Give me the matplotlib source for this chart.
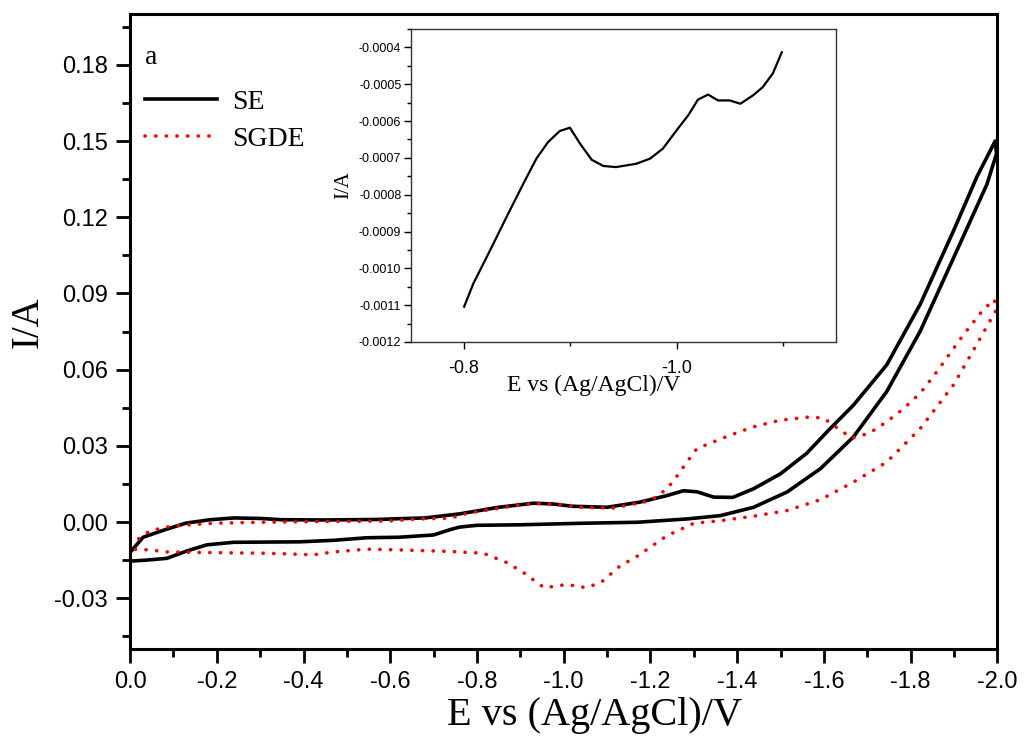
import matplotlib
matplotlib.use("Agg")
import matplotlib.pyplot as plt
from matplotlib.ticker import MultipleLocator, FormatStrFormatter

plt.rcParams['axes.unicode_minus'] = False
plt.rcParams['font.family'] = ['Liberation Sans', 'DejaVu Sans']

# SE 循环伏安曲线（正扫 + 回扫）
se_fwd_e = [0.0, -0.03, -0.085, -0.13, -0.185, -0.24, -0.30, -0.35, -0.45, -0.57, -0.62, -0.68,
            -0.76, -0.85, -0.93, -0.975, -1.02, -1.10, -1.175, -1.238, -1.276, -1.307, -1.346,
            -1.39, -1.438, -1.50, -1.56, -1.61, -1.668, -1.745, -1.822, -1.899, -1.953, -1.995]
se_fwd_i = [-0.012, -0.006, -0.0028, -0.0004, 0.0009, 0.0016, 0.0014, 0.0009, 0.0008, 0.0010, 0.0013, 0.0016,
            0.0032, 0.0058, 0.0074, 0.0071, 0.0062, 0.0058, 0.0078, 0.0104, 0.0123, 0.0119, 0.0098,
            0.0097, 0.0131, 0.019, 0.027, 0.036, 0.046, 0.0619, 0.0857, 0.1147, 0.136, 0.150]
se_rev_e = [-1.998, -1.976, -1.899, -1.822, -1.745, -1.668, -1.592, -1.515, -1.438, -1.361, -1.284,
            -1.17, -1.04, -0.90, -0.80, -0.76, -0.738, -0.70, -0.62, -0.546, -0.47, -0.392, -0.238,
            -0.177, -0.131, -0.085, -0.038, 0.0]
se_rev_i = [0.145, 0.133, 0.104, 0.0751, 0.0514, 0.0335, 0.021, 0.0118, 0.0058, 0.0025, 0.0012,
            -0.0001, -0.0005, -0.0011, -0.0013, -0.002, -0.003, -0.0051, -0.006, -0.0062, -0.0072, -0.0078, -0.008,
            -0.009, -0.0114, -0.0143, -0.015, -0.0154]

# SGDE 曲线
sg_fwd_e = [0.0, -0.046, -0.10, -0.192, -0.30, -0.45, -0.60, -0.66, -0.738, -0.78, -0.853, -0.93,
            -0.977, -1.038, -1.115, -1.20, -1.238, -1.261, -1.284, -1.307, -1.346, -1.384, -1.438,
            -1.50, -1.569, -1.60, -1.635, -1.665, -1.705, -1.745, -1.784, -1.822, -1.861, -1.922,
            -1.968, -1.993]
sg_fwd_i = [-0.009, -0.0034, -0.0015, -0.0005, -0.0001, 0.0002, 0.0004, 0.0012, 0.0015, 0.0035, 0.0055, 0.0074,
            0.0071, 0.0058, 0.0055, 0.0084, 0.0130, 0.0180, 0.0236, 0.0289, 0.0316, 0.0342, 0.0375,
            0.0401, 0.0414, 0.0408, 0.0365, 0.0330, 0.0350, 0.0395, 0.0447, 0.0507, 0.0593, 0.0738,
            0.0837, 0.0876]
sg_rev_e = [-1.998, -1.961, -1.899, -1.822, -1.745, -1.668, -1.592, -1.515, -1.438, -1.361, -1.30,
            -1.238, -1.169, -1.13, -1.088, -1.053, -1.007, -0.955, -0.907, -0.869, -0.815, -0.738,
            -0.623, -0.546, -0.469, -0.423, -0.315, -0.162, -0.085, -0.046, 0.0]
sg_rev_i = [0.0837, 0.0725, 0.054, 0.0368, 0.0236, 0.0157, 0.0088, 0.0045, 0.0023, 0.0005, -0.0005,
            -0.0054, -0.0135, -0.0173, -0.0235, -0.0259, -0.0246, -0.0259, -0.0199, -0.016, -0.0123, -0.0116,
            -0.011, -0.0107, -0.0118, -0.0129, -0.0123, -0.012, -0.0118, -0.011, -0.0107]

# 插图：SE 局部放大
ins_e = [-0.80, -0.8087, -0.8244, -0.840, -0.8557, -0.868, -0.879, -0.890, -0.8995, -0.909, -0.920,
         -0.931, -0.943, -0.962, -0.975, -0.987, -1.000, -1.011, -1.020, -1.0295, -1.039, -1.050,
         -1.060, -1.072, -1.081, -1.0905, -1.099]
ins_i = [-0.001104, -0.001041, -0.000951, -0.00086, -0.00077, -0.000702, -0.000657, -0.000627, -0.000618,
         -0.000661, -0.000705, -0.000722, -0.000725, -0.000716, -0.000702, -0.000675, -0.000625, -0.000584,
         -0.000542, -0.000528, -0.000544, -0.000544, -0.000553, -0.00053, -0.000508, -0.000471, -0.000413]

fig = plt.figure(figsize=(10.24, 7.38), dpi=100)
ax = fig.add_axes([0.127, 0.1206, 0.847, 0.8604])

ax.plot(se_fwd_e + se_rev_e, se_fwd_i + se_rev_i, color='black', lw=2.6, label='SE')
ax.plot(sg_fwd_e + sg_rev_e, sg_fwd_i + sg_rev_i, color='#ff0000', lw=2.6,
        linestyle=(0, (0.05, 2.9)), dash_capstyle='round', label='SGDE')

ax.set_xlim(0, -2.0)
ax.set_ylim(-0.05, 0.20)
ax.xaxis.set_major_locator(MultipleLocator(0.2))
ax.xaxis.set_minor_locator(MultipleLocator(0.1))
ax.yaxis.set_major_locator(MultipleLocator(0.03))
ax.yaxis.set_minor_locator(MultipleLocator(0.015))
ax.xaxis.set_major_formatter(FormatStrFormatter('%.1f'))
ax.yaxis.set_major_formatter(FormatStrFormatter('%.2f'))
ax.set_yticks([-0.03, 0.0, 0.03, 0.06, 0.09, 0.12, 0.15, 0.18])
ax.tick_params(which='major', direction='out', length=10, width=2, labelsize=17, pad=6)
ax.tick_params(which='minor', direction='out', length=6, width=2)
for s in ax.spines.values():
    s.set_linewidth(2.2)

ax.set_xlabel('E vs (Ag/AgCl)/V', fontsize=29, family='Liberation Serif')
ax.xaxis.set_label_coords(0.535, -0.075)
ax.set_ylabel('I/A', fontsize=28, family='Liberation Serif')
ax.yaxis.set_label_coords(-0.096, 0.515)

ax.text(0.017, 0.922, 'a', transform=ax.transAxes, fontsize=20, family='Liberation Serif')
ax.legend(loc='upper left', bbox_to_anchor=(0.017, 0.881), frameon=False,
          prop={'family': 'Liberation Serif', 'size': 20}, handlelength=2.6,
          handletextpad=0.55, labelspacing=0.4, borderpad=0, borderaxespad=0)

# 插图
ins = fig.add_axes([0.4014, 0.5366, 0.415, 0.4241])
ins.plot(ins_e, ins_i, color='black', lw=1.6)
ins.set_xlim(-0.75, -1.15)
ins.set_ylim(-0.0012, -0.00035)
ins.set_xticks([-0.8, -1.0])
ins.xaxis.set_minor_locator(MultipleLocator(0.1))
ins.yaxis.set_major_locator(MultipleLocator(0.0001))
ins.yaxis.set_minor_locator(MultipleLocator(0.00005))
ins.xaxis.set_major_formatter(FormatStrFormatter('%.1f'))
ins.yaxis.set_major_formatter(FormatStrFormatter('%.4f'))
ins.tick_params(axis='y', which='major', direction='out', length=5, width=1, labelsize=9, pad=2)
ins.tick_params(axis='x', which='major', direction='out', length=5, width=1, labelsize=13, pad=8)
ins.tick_params(which='minor', direction='out', length=3, width=1)
for s in ins.spines.values():
    s.set_linewidth(1.0)
    s.set_color('#333333')
ins.set_xlabel('E vs (Ag/AgCl)/V', fontsize=17, family='Liberation Serif')
ins.xaxis.set_label_coords(0.43, -0.105)
ins.set_ylabel('I/A', fontsize=15, family='Liberation Serif', labelpad=4)

plt.savefig('out.png', dpi=100)
